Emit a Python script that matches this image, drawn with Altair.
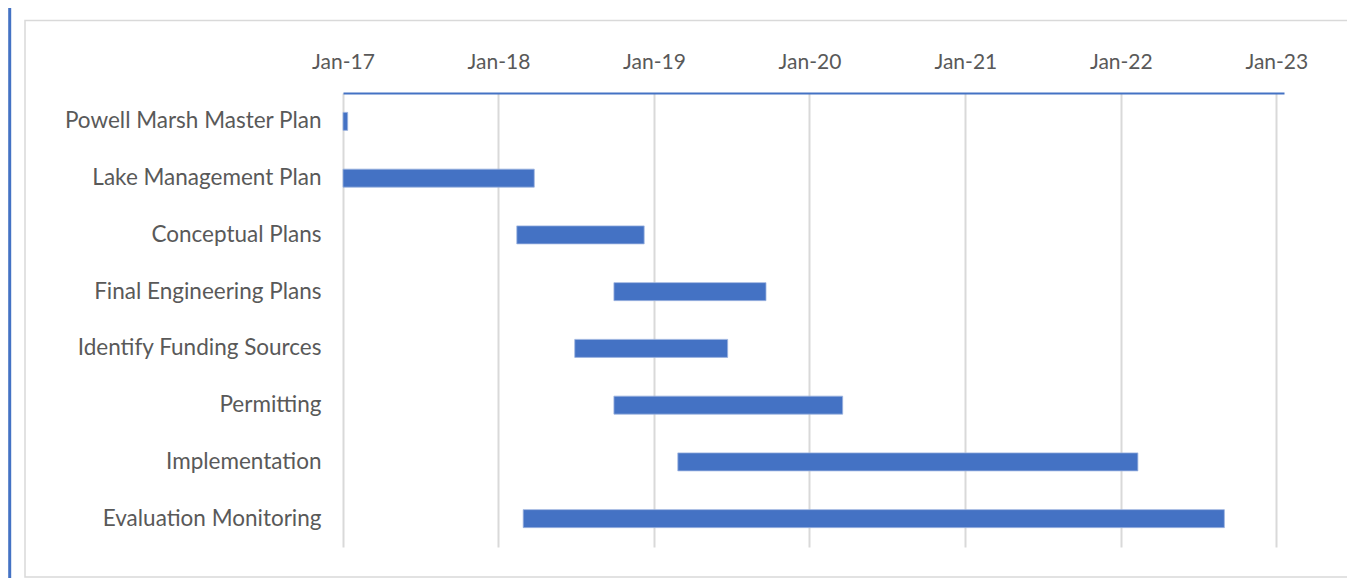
import altair as alt
import pandas as pd

tasks = [
    "Powell Marsh Master Plan",
    "Lake Management Plan",
    "Conceptual Plans",
    "Final Engineering Plans",
    "Identify Funding Sources",
    "Permitting",
    "Implementation",
    "Evaluation Monitoring",
]
starts = ["2017-01-01", "2017-01-01", "2018-02-13", "2018-09-29",
          "2018-06-29", "2018-09-29", "2019-02-26", "2018-02-28"]
ends = ["2017-01-12", "2018-03-26", "2018-12-09", "2019-09-21",
        "2019-06-23", "2020-03-19", "2022-02-10", "2022-09-01"]
tick_years = [2017, 2018, 2019, 2020, 2021, 2022, 2023]

df = pd.DataFrame({
    "task": tasks,
    "start": [s + "T00:00:00" for s in starts],
    "end": [e + "T00:00:00" for e in ends],
})

BLUE = "#4472c4"
GRAY_TXT = "#595959"
GRID = "#d9d9d9"

PW, PH = 941, 454
PAD_L, PAD_T = 335, 85
TOTAL_W, TOTAL_H = 1339, 570

one = pd.DataFrame({"a": [0]})

frame = alt.Chart(one).mark_rect(fill=None, stroke=GRID, strokeWidth=1.5).encode(
    x=alt.value(17 - PAD_L),
    x2=alt.value(TOTAL_W + 20 - PAD_L),
    y=alt.value(12.5 - PAD_T),
    y2=alt.value(TOTAL_H - 1 - PAD_T),
)

left_line = alt.Chart(one).mark_rule(color=BLUE, strokeWidth=3).encode(
    x=alt.value(1.7 - PAD_L),
    y=alt.value(-PAD_T),
    y2=alt.value(TOTAL_H - PAD_T),
)

bars = alt.Chart(df).mark_bar(size=18, color=BLUE, stroke="#9db4e0", strokeWidth=0.8).encode(
    x=alt.X(
        "start:T",
        title=None,
        scale=alt.Scale(domain=[alt.DateTime(year=2017, month=1, date=1),
                                alt.DateTime(year=2023, month=1, date=19)]),
        axis=alt.Axis(
            orient="top",
            values=[alt.DateTime(year=y, month=1, date=1) for y in tick_years],
            format="%b-%y",
            labelFontSize=21,
            labelColor=GRAY_TXT,
            labelPadding=21,
            ticks=False,
            domainColor=BLUE,
            domainWidth=2,
            grid=True,
            gridColor=GRID,
            gridWidth=2,
            labelFlush=False,
        ),
    ),
    x2="end:T",
    y=alt.Y(
        "task:N",
        sort=tasks,
        title=None,
        scale=alt.Scale(paddingInner=0, paddingOuter=0),
        axis=alt.Axis(
            labelFontSize=22.5,
            labelColor=GRAY_TXT,
            labelPadding=22,
            ticks=False,
            domain=False,
            grid=False,
            labelLimit=400,
        ),
    ),
)

chart = alt.layer(frame, left_line, bars).properties(
    width=PW,
    height=PH,
    padding={"left": PAD_L, "top": PAD_T, "right": TOTAL_W - PAD_L - PW, "bottom": TOTAL_H - PAD_T - PH},
    autosize=alt.AutoSizeParams(type="none"),
    background="white",
).configure(font="Lato", view=alt.ViewConfig(stroke=None))

chart.save("out.html", embed_options={"renderer": "svg", "actions": False})
